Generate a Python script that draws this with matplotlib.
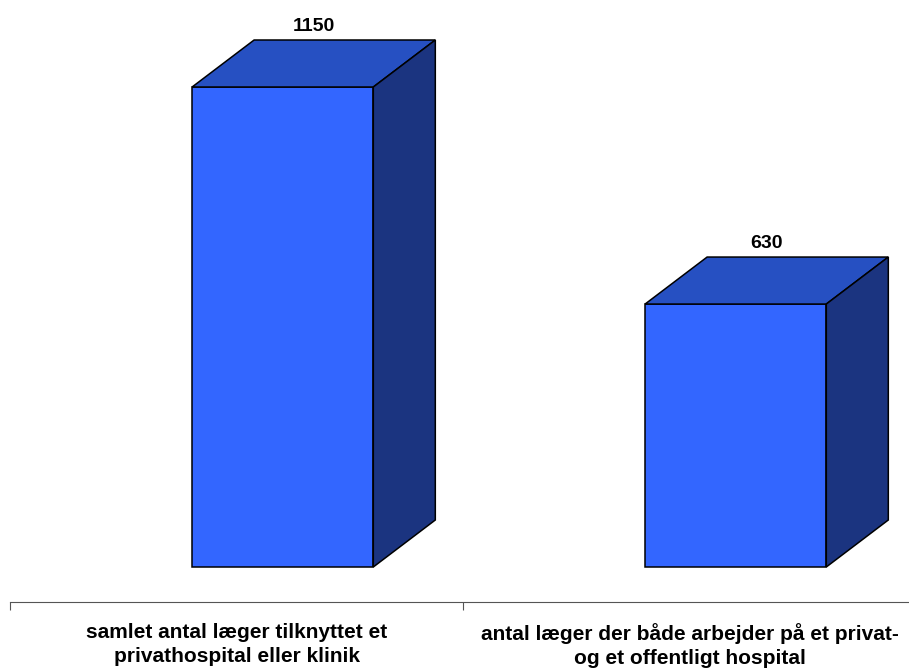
import matplotlib.pyplot as plt
from matplotlib.patches import Polygon

# Data
categories = [
    "samlet antal læger tilknyttet et\nprivathospital eller klinik",
    "antal læger der både arbejder på et privat-\nog et offentligt hospital",
]
values = [1150, 630]
value_labels = ["1150", "630"]

# Colours of the 3D boxes
FRONT = "#3366FF"
TOP = "#2650C2"
SIDE = "#1B3480"

plt.rcParams["font.family"] = ["Liberation Sans", "DejaVu Sans"]

W, H = 909, 669
fig = plt.figure(figsize=(W / 100, H / 100), dpi=100)

# axes geometry (pixels): category axis line at y=602 from top
left_px, axis_px = 10, 602
ax = fig.add_axes([left_px / W, (H - axis_px) / H, (W - left_px) / W, axis_px / H])

px_per_cat = 453
px_per_unit = 480 / 1150
base_gap = (axis_px - 567) / px_per_unit

bar_w = 0.4
bar_off = 0.402
dx = 62 / px_per_cat
dy = 47 / px_per_unit

xs = [i + bar_off for i in range(len(values))]
ax.bar(xs, values, width=bar_w, align="edge", color=FRONT,
       edgecolor="black", linewidth=1.1, zorder=3)

for x0, v, lab in zip(xs, values, value_labels):
    x1 = x0 + bar_w
    top = Polygon([(x0, v), (x1, v), (x1 + dx, v + dy), (x0 + dx, v + dy)],
                  closed=True, facecolor=TOP, edgecolor="black", linewidth=1.1,
                  zorder=3)
    side = Polygon([(x1, 0), (x1 + dx, dy), (x1 + dx, v + dy), (x1, v)],
                   closed=True, facecolor=SIDE, edgecolor="black", linewidth=1.1,
                   zorder=3)
    ax.add_patch(top)
    ax.add_patch(side)
    ax.text((x0 + x1 + dx) / 2, v + dy + 9 / px_per_unit, lab,
            ha="center", va="baseline", fontsize=14, fontweight="bold")

# category axis: tick marks at boundaries, labels centred in each slot
for s in ["top", "right", "left"]:
    ax.spines[s].set_visible(False)
ax.spines["bottom"].set_color("#555555")
ax.spines["bottom"].set_linewidth(0.8)
ax.set_yticks([])
ax.set_xticks([0, 1])
ax.set_xticklabels([])
ax.tick_params(axis="x", which="major", direction="out", length=6,
               color="#555555", width=0.8)
ax.set_xticks([0.5, 1.5], minor=True)
ax.set_xticklabels(categories, minor=True, fontsize=15, fontweight="bold",
                   linespacing=1.35)
ax.tick_params(axis="x", which="minor", length=0, pad=15)

ax.set_xlim(0, (W - left_px) / px_per_cat)
ax.set_ylim(-base_gap, -base_gap + axis_px / px_per_unit)

fig.savefig("out.png", dpi=100)
